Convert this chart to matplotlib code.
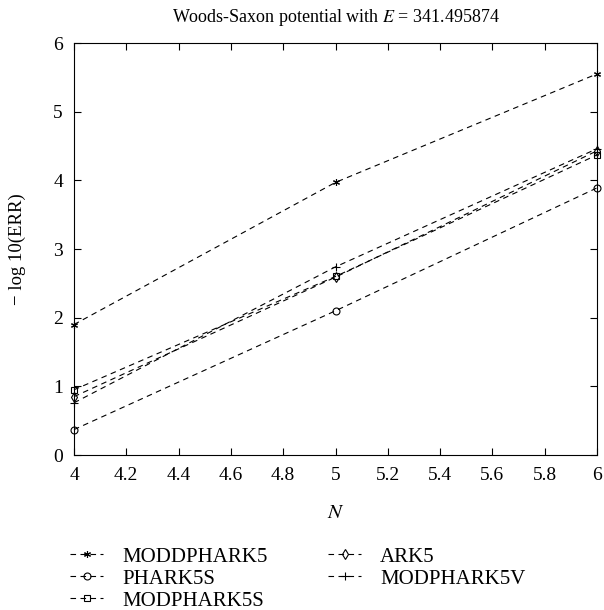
import matplotlib
matplotlib.use("Agg")
import matplotlib.pyplot as plt

plt.rcParams['font.family'] = ['Liberation Serif', 'DejaVu Serif']
plt.rcParams['mathtext.fontset'] = 'stix'

N = [4, 5, 6]
moddphark5 = [1.90, 3.97, 5.55]
phark5s = [0.37, 2.10, 3.89]
modphark5s = [0.95, 2.60, 4.37]
ark5 = [0.85, 2.59, 4.43]
modphark5v = [0.76, 2.74, 4.46]

series = [
    ("MODDPHARK5", moddphark5, dict(marker=(6, 2, 0), ms=5, mfc='k')),
    ("PHARK5S", phark5s, dict(marker='o', ms=5, mfc='none')),
    ("MODPHARK5S", modphark5s, dict(marker='s', ms=5, mfc='none')),
    ("ARK5", ark5, dict(marker='d', ms=5, mfc='none')),
    ("MODPHARK5V", modphark5v, dict(marker='+', ms=6)),
]

fig = plt.figure(figsize=(6.04, 6.10), dpi=100)
ax = fig.add_axes([74 / 604, 1 - 455 / 610, 523 / 604, 412 / 610])

for name, vals, style in series:
    ax.plot(N, vals, color='k', ls=(0, (5, 4)), lw=0.8, mec='k', mew=0.8,
            label=name, clip_on=False, zorder=3, **style)

ax.set_xlim(4, 6)
ax.set_ylim(0, 6)
ax.set_xticks([4, 4.2, 4.4, 4.6, 4.8, 5, 5.2, 5.4, 5.6, 5.8, 6])
ax.set_xticklabels(['4', '4.2', '4.4', '4.6', '4.8', '5', '5.2', '5.4', '5.6', '5.8', '6'])
ax.set_yticks(range(7))
ax.tick_params(direction='in', top=True, right=True, labelsize=14, length=5, width=0.8)
ax.tick_params(axis='x', pad=9)
ax.tick_params(axis='y', pad=8)
for s in ax.spines.values():
    s.set_linewidth(0.8)

ax.set_title("Woods-Saxon potential with $E$ = 341.495874", fontsize=13, pad=15)
ax.set_xlabel("$N$", fontsize=15, labelpad=14)
ax.set_ylabel("− log 10(ERR)", fontsize=13.5)
ax.yaxis.set_label_coords(-0.092, 0.5)

handles, labels = ax.get_legend_handles_labels()
fig.legend(handles, labels, loc='upper left', bbox_to_anchor=(0.085, 0.134),
           ncol=2, frameon=False, fontsize=15, handlelength=1.6,
           handletextpad=0.9, columnspacing=2.9, labelspacing=0.12)

fig.savefig("out.png", dpi=100)
